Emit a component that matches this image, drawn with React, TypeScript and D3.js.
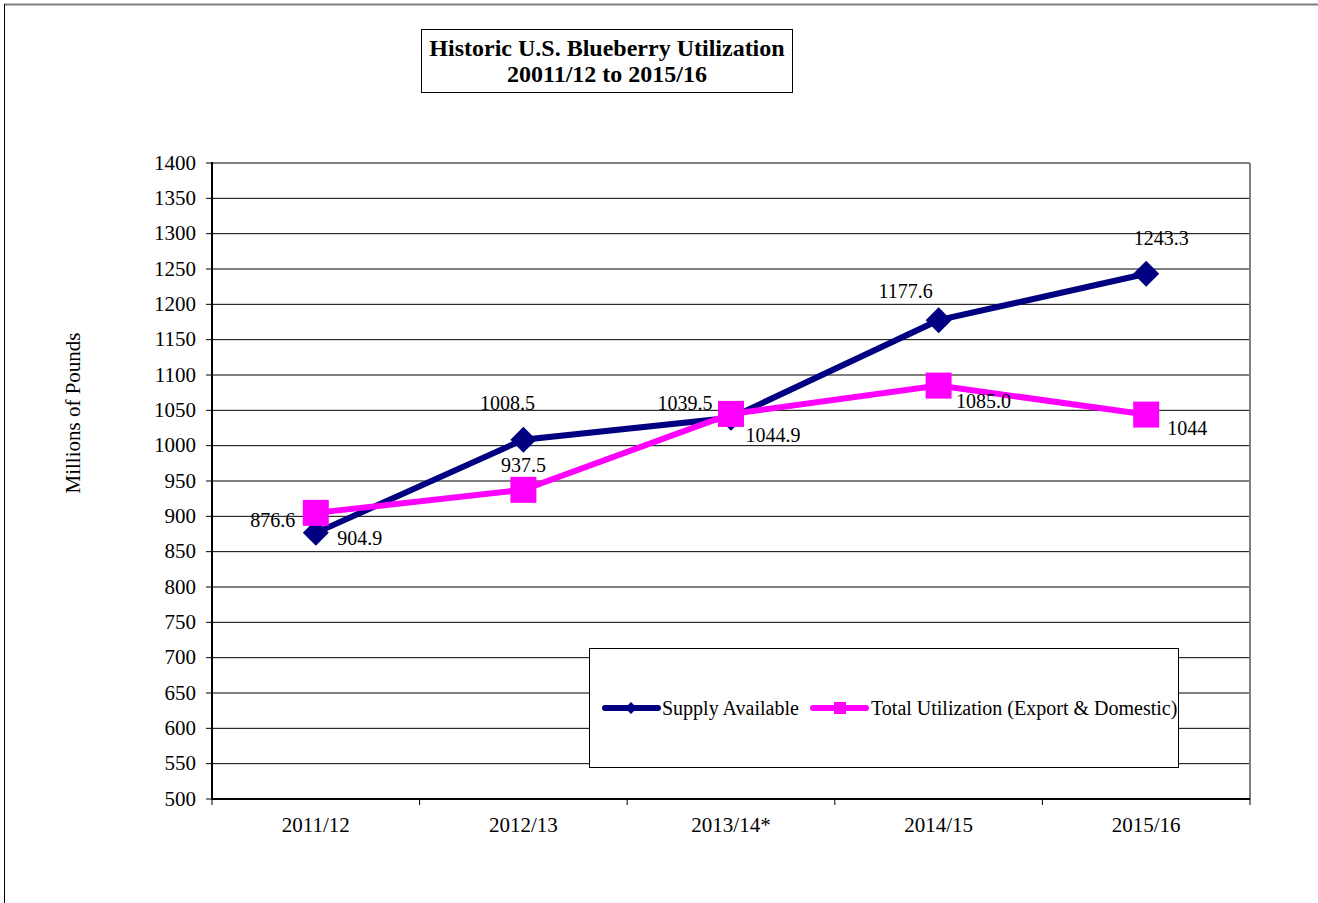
import * as d3 from "d3"

const categories = ["2011/12", "2012/13", "2013/14*", "2014/15", "2015/16"]
const supplyAvailable = [876.6, 1008.5, 1039.5, 1177.6, 1243.3]
const totalUtilization = [904.9, 937.5, 1044.9, 1085.0, 1044]
const supplyLabels = ["876.6", "1008.5", "1039.5", "1177.6", "1243.3"]
const utilLabels = ["904.9", "937.5", "1044.9", "1085.0", "1044"]
const yTicks = d3.range(500, 1401, 50)

// label nudges (px) around each point, as placed in the original
const supplyOffsets = [[-43, -6], [-16, -30], [-46, -8], [-33, -22], [15, -29]]
const utilOffsets = [[44, 32], [0, -18], [42, 28], [45, 22], [41, 20]]

const W = 1318
const H = 903
const PLOT = { left: 212, right: 1250, top: 163, bottom: 799 }
const FONT = "'Liberation Serif', 'Times New Roman', serif"
const NAVY = "#000080"
const PINK = "#ff00ff"

export default function App() {
  const x = d3
    .scaleBand()
    .domain(categories)
    .range([PLOT.left, PLOT.right])
  const y = d3.scaleLinear().domain([500, 1400]).range([PLOT.bottom, PLOT.top])
  const cx = (c: string) => x(c)! + x.bandwidth() / 2

  const line = d3
    .line<number>()
    .x((_, i) => cx(categories[i]))
    .y((d) => y(d))

  const diamond = (px: number, py: number, r: number) =>
    `M${px},${py - r}L${px + r},${py}L${px},${py + r}L${px - r},${py}Z`

  return (
    <svg
      width={W}
      height={H}
      style={{ position: "absolute", left: 0, top: 0, background: "#fff" }}
      fontFamily={FONT}
    >
      {/* outer frame */}
      <line x1={4} x2={W} y1={4.5} y2={4.5} stroke="#808080" strokeWidth={2} />
      <line x1={4.5} x2={4.5} y1={4} y2={H} stroke="#000" strokeWidth={1} />

      {/* title */}
      <rect x={421.5} y={29.5} width={371} height={63} fill="#fff" stroke="#000" strokeWidth={1} />
      <text x={607} y={56} textAnchor="middle" fontWeight="bold" fontSize={24}>
        Historic U.S. Blueberry Utilization
      </text>
      <text x={607} y={82} textAnchor="middle" fontWeight="bold" fontSize={24}>
        20011/12 to 2015/16
      </text>

      {/* grid */}
      {yTicks.map((t) => (
        <g key={t}>
          <line
            x1={PLOT.left}
            x2={PLOT.right}
            y1={y(t)}
            y2={y(t)}
            stroke={t === 1400 ? "#808080" : "#000"}
            strokeWidth={t === 1400 ? 2 : 1}
          />
          <line x1={PLOT.left - 6} x2={PLOT.left} y1={y(t)} y2={y(t)} stroke="#000" />
          <text x={PLOT.left - 16} y={y(t) + 6.5} textAnchor="end" fontSize={21}>
            {t}
          </text>
        </g>
      ))}
      <line x1={PLOT.right} x2={PLOT.right} y1={PLOT.top} y2={PLOT.bottom} stroke="#808080" strokeWidth={2} />
      <line x1={PLOT.left} x2={PLOT.left} y1={PLOT.top - 1} y2={PLOT.bottom + 1} stroke="#000" strokeWidth={2} />
      <line x1={PLOT.left} x2={PLOT.right} y1={PLOT.bottom} y2={PLOT.bottom} stroke="#000" strokeWidth={2} />

      {/* x ticks + labels */}
      {categories.map((c) => (
        <g key={c}>
          <line x1={x(c)!} x2={x(c)!} y1={PLOT.bottom} y2={PLOT.bottom + 6} stroke="#000" />
          <text x={cx(c)} y={832} textAnchor="middle" fontSize={21}>
            {c}
          </text>
        </g>
      ))}
      <line x1={PLOT.right} x2={PLOT.right} y1={PLOT.bottom} y2={PLOT.bottom + 6} stroke="#000" />

      <text
        transform={`translate(80,413) rotate(-90)`}
        textAnchor="middle"
        fontSize={21}
      >
        Millions of Pounds
      </text>

      {/* legend */}
      <rect x={589.5} y={648.5} width={589} height={119} fill="#fff" stroke="#000" strokeWidth={1} />
      <line x1={605} x2={658} y1={708} y2={708} stroke={NAVY} strokeWidth={6} strokeLinecap="round" />
      <path d={diamond(631, 708, 6)} fill={NAVY} />
      <text x={662} y={715} fontSize={20}>Supply Available</text>
      <line x1={813} x2={866} y1={708} y2={708} stroke={PINK} strokeWidth={6} strokeLinecap="round" />
      <rect x={834} y={702} width={12} height={12} fill={PINK} />
      <text x={871} y={715} fontSize={20}>Total Utilization (Export &amp; Domestic)</text>

      {/* supply series */}
      <path d={line(supplyAvailable)!} fill="none" stroke={NAVY} strokeWidth={6} />
      {supplyAvailable.map((v, i) => (
        <path key={i} d={diamond(cx(categories[i]), y(v), 13)} fill={NAVY} />
      ))}

      {/* utilization series */}
      <path d={line(totalUtilization)!} fill="none" stroke={PINK} strokeWidth={6} />
      {totalUtilization.map((v, i) => (
        <rect key={i} x={cx(categories[i]) - 13} y={y(v) - 13} width={26} height={26} fill={PINK} />
      ))}

      {/* data labels */}
      {supplyAvailable.map((v, i) => (
        <text
          key={"s" + i}
          x={cx(categories[i]) + supplyOffsets[i][0]}
          y={y(v) + supplyOffsets[i][1]}
          textAnchor="middle"
          fontSize={20}
        >
          {supplyLabels[i]}
        </text>
      ))}
      {totalUtilization.map((v, i) => (
        <text
          key={"u" + i}
          x={cx(categories[i]) + utilOffsets[i][0]}
          y={y(v) + utilOffsets[i][1]}
          textAnchor="middle"
          fontSize={20}
        >
          {utilLabels[i]}
        </text>
      ))}
    </svg>
  )
}
